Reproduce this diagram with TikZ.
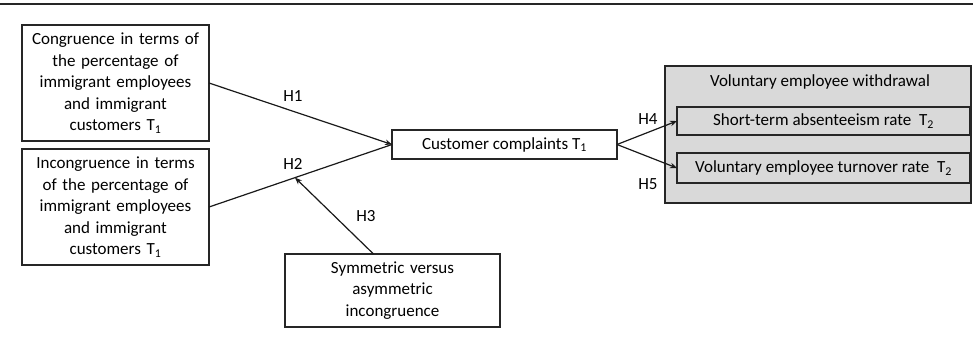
\documentclass[tikz,border=0pt]{standalone}
\usepackage{fontspec}
\setmainfont{Carlito}
\usetikzlibrary{arrows.meta,calc}
\newcommand{\sub}[1]{\textsubscript{#1}}
\begin{document}
\begin{tikzpicture}[x=1pt,y=-1pt,
  every node/.style={font=\fontsize{17}{21.5}\selectfont, inner sep=0pt, outer sep=0pt},
  bx/.style={draw=black!85, line width=1.3pt, fill=white, align=center},
  lab/.style={font=\fontsize{17}{20}\selectfont},
  arr/.style={line width=1.2pt, draw=black!90, -{Stealth[length=7pt,width=5.5pt]}}]
\useasboundingbox (0,0) rectangle (973,338);
\draw[line width=1.8pt, black!85] (0,4) -- (973,4);
\node[bx, minimum width=187pt, minimum height=116pt, text width=180pt] (b1) at (115.5,83)
  {Congruence in terms of\\the percentage of\\immigrant employees\\and immigrant\\customers T\sub{1}};
\node[bx, minimum width=187pt, minimum height=116pt, text width=180pt] (b2) at (115.5,207)
  {Incongruence in terms\\of the percentage of\\immigrant employees\\and immigrant\\customers T\sub{1}};
\node[bx, minimum width=225pt, minimum height=29pt] (cc) at (504.5,144.5) {Customer complaints T\sub{1}};
\node[bx, minimum width=215pt, minimum height=73pt, text width=210pt] (sym) at (392.5,290.5)
  {Symmetric versus\\asymmetric\\incongruence};
\node[draw=black!85, line width=1.3pt, fill=black!15, minimum width=306pt, minimum height=137pt] (grey) at (818,134.5) {};
\node (gt) at (820,82) {Voluntary employee withdrawal};
\node[bx, fill=black!15, minimum width=293pt, minimum height=28pt] (i1) at (823.5,121) {Short-term absenteeism rate\ \ T\sub{2}};
\node[bx, fill=black!15, minimum width=293pt, minimum height=30pt] (i2) at (823.5,168) {Voluntary employee turnover rate\ \ T\sub{2}};
\coordinate (m) at ($(b2.east)!0.47!(cc.west)$);
\coordinate (s) at ($(sym.north)+(-19,0)$);
\draw[arr] (b1.east) -- (cc.west);
\draw[line width=1.2pt, black!90] (b2.east) -- (cc.west);
\draw[arr] (s) -- (m);
\draw[arr] (cc.east) -- (i1.west);
\draw[arr] (cc.east) -- (i2.west);
\node[lab] (h1) at (293,96) {H1};
\node[lab] (h2) at (293,164) {H2};
\node[lab] (h3) at (366,216) {H3};
\node[lab] (h4) at (648,119) {H4};
\node[lab] (h5) at (648,184) {H5};
\end{tikzpicture}
\end{document}
